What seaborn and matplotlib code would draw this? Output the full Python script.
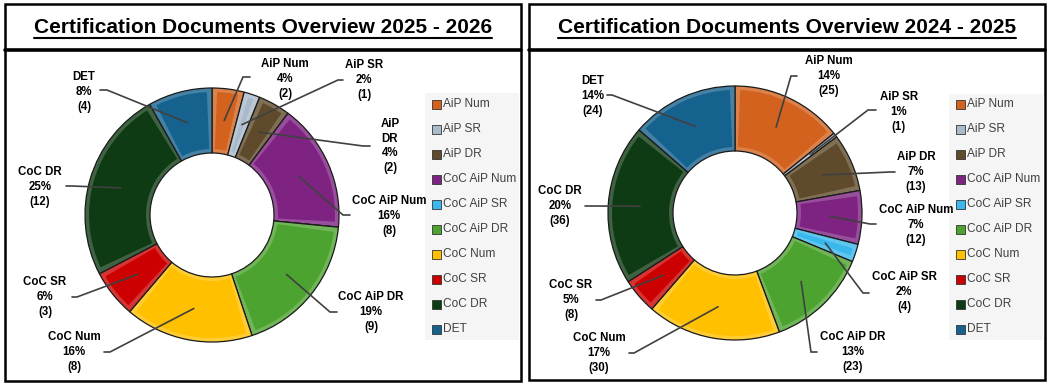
import numpy as np
import matplotlib.pyplot as plt
import seaborn as sns
from matplotlib.patches import Wedge, Rectangle
from matplotlib.colors import to_rgb

# chart data
categories = ['AiP Num', 'AiP SR', 'AiP DR', 'CoC AiP Num', 'CoC AiP SR',
              'CoC AiP DR', 'CoC Num', 'CoC SR', 'CoC DR', 'DET']
counts_2526 = [2, 1, 2, 8, 0, 9, 8, 3, 12, 4]
pct_2526 = [4, 2, 4, 16, 0, 19, 16, 6, 25, 8]
counts_2425 = [25, 1, 13, 12, 4, 23, 30, 8, 36, 24]
pct_2425 = [14, 1, 7, 7, 2, 13, 17, 5, 20, 14]

# label text (left chart wraps AiP DR)
names_2526 = ['AiP Num', 'AiP SR', 'AiP\nDR', 'CoC AiP Num', 'CoC AiP SR',
              'CoC AiP DR', 'CoC Num', 'CoC SR', 'CoC DR', 'DET']
names_2425 = categories

colors = ['#D2621E', '#A9BACB', '#5F4B2B', '#7E2382', '#38B8EC',
          '#4DA32F', '#FFC000', '#CC0000', '#0F3B14', '#15628E']

# label placement in pixels: (label x, label y, elbow x, elbow y, end x)
layout_2526 = [(285, 79, 243, 77, 250), (364, 80, 338, 80, 343), (390, 146, 363, 146, 370),
               (389, 216, 343, 215, 350), None, (371, 312, 330, 312, 337),
               (74, 352, 110, 352, 104), (45, 297, 77, 297, 72), (40, 187, 72, 186, 66),
               (84, 92, 107, 90, 100)]
layout_2425 = [(829, 76, 791, 76, 797), (899, 112, 868, 110, 876), (916, 172, 890, 172, 895),
               (916, 225, 870, 224, 876), (904, 292, 863, 293, 869), (853, 352, 811, 352, 817),
               (599, 353, 634, 353, 629), (571, 300, 601, 300, 596), (560, 206, 590, 206, 585),
               (593, 96, 612, 95, 607)]

sns.set_theme(style='white')
plt.rcParams['font.family'] = ['Liberation Sans', 'DejaVu Sans']
palette = sns.color_palette(colors)

W, H = 1052, 389
fig = plt.figure(figsize=(W / 100, H / 100), dpi=100)
ax = fig.add_axes([0, 0, 1, 1])


def flip(y):
    return H - y


def lighten(c, f):
    r = np.array(to_rgb(c))
    return tuple(r + (1 - r) * f)


panels = [
    dict(box=(5, 4, 521, 381), title='Certification Documents Overview 2025 - 2026',
         center=(212, 215), counts=counts_2526, pcts=pct_2526, names=names_2526,
         layout=layout_2526, legend=(425, 93)),
    dict(box=(529, 4, 1045, 380), title='Certification Documents Overview 2024 - 2025',
         center=(735, 213), counts=counts_2425, pcts=pct_2425, names=names_2425,
         layout=layout_2425, legend=(949, 94)),
]

R, HOLE = 127, 62
titles = []
for p in panels:
    x0, y0, x1, y1 = p['box']
    ax.add_patch(Rectangle((x0, flip(y1)), x1 - x0, y1 - y0, fill=False, ec='black', lw=1.8))
    ax.plot([x0, x1], [flip(50)] * 2, color='black', lw=2.6)
    t = ax.text((x0 + x1) / 2, flip(27), p['title'], ha='center', va='center',
                fontsize=15, fontweight='bold', color='black')
    titles.append(t)

    cx, cy = p['center']
    wedges, _ = ax.pie(p['counts'], colors=[lighten(c, 0.2) for c in palette],
                       startangle=90, counterclock=False, center=(cx, flip(cy)),
                       radius=R, frame=True,
                       wedgeprops=dict(width=R - HOLE, edgecolor='#1a1a1a', linewidth=0.9))
    # bevel look: inner face inset from the rim
    d = np.degrees(4 / 95)
    for w, c in zip(wedges, palette):
        if w.theta2 - w.theta1 > 2 * d + 1:
            ax.add_patch(Wedge(w.center, w.r - 4, w.theta1 + d, w.theta2 - d,
                               width=w.width - 8, fc=c, ec='none'))

    # data labels with leader lines
    for w, name, n, pc, lay in zip(wedges, p['names'], p['counts'], p['pcts'], p['layout']):
        if lay is None or n == 0:
            continue
        lx, ly, ex, ey, endx = lay
        ang = np.radians((w.theta1 + w.theta2) / 2)
        sx = w.center[0] + 0.75 * R * np.cos(ang)
        sy = w.center[1] + 0.75 * R * np.sin(ang)
        ax.plot([sx, ex, endx], [sy, flip(ey), flip(ey)], color='#404040', lw=1.2,
                solid_joinstyle='miter')
        ax.text(lx, flip(ly), f'{name}\n{pc}%\n({n})', ha='center', va='center',
                fontsize=8.3, fontweight='bold', color='black', linespacing=1.3)

    # legend
    gx, gy = p['legend']
    ax.add_patch(Rectangle((gx, flip(340)), 94, 340 - gy, fc='#F5F5F5', ec='none', zorder=0))
    for i, (name, c) in enumerate(zip(categories, palette)):
        yy = flip(104 + 25 * i)
        ax.add_patch(Rectangle((gx + 7, yy - 4.5), 9, 9, fc=c, ec='#333333', lw=0.6))
        ax.text(gx + 18, yy, name, ha='left', va='center', fontsize=8.6, color='#404040')

ax.set_xlim(0, W)
ax.set_ylim(0, H)
ax.set_aspect('auto')
ax.axis('off')

# underline the titles
fig.canvas.draw()
renderer = fig.canvas.get_renderer()
for t in titles:
    bb = t.get_window_extent(renderer).transformed(ax.transData.inverted())
    ax.plot([bb.x0, bb.x1], [flip(38)] * 2, color='black', lw=1.5)

fig.savefig('out.png', dpi=100)
